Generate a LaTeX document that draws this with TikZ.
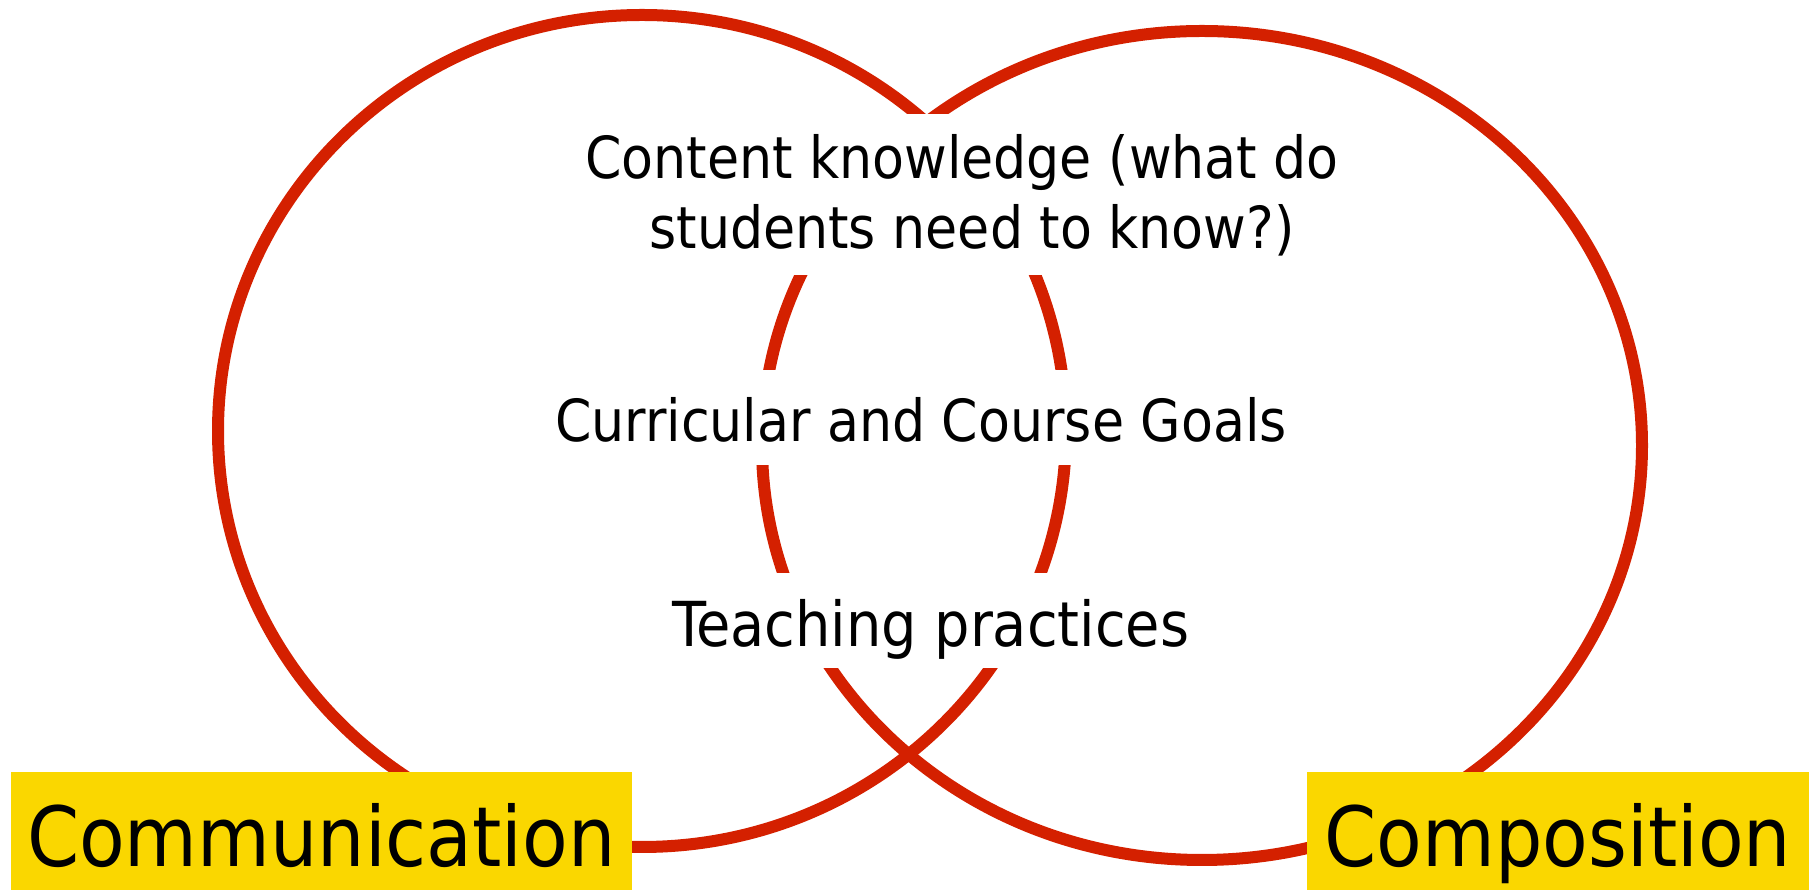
\documentclass[tikz,border=0pt]{standalone}
\usepackage{fontspec}
\setmainfont{DejaVu Sans Condensed}
\definecolor{ringred}{RGB}{212,32,0}
\definecolor{tagyellow}{RGB}{250,215,0}
\begin{document}
\begin{tikzpicture}[x=1pt,y=1pt,
  ring/.style={draw=ringred,line width=12pt},
  topic/.style={fill=white,inner sep=0pt,font=\fontsize{58}{70}\selectfont,align=center},
  tag/.style={fill=tagyellow,inner sep=0pt,anchor=base,text height=95pt,text depth=23pt,font=\fontsize{83}{90}\selectfont}]
\useasboundingbox (0,0) rectangle (1813,890);
% the two circles
\draw[ring] (642,459) ellipse [x radius=424,y radius=416];
\draw[ring] (1202,444.5) ellipse [x radius=440,y radius=414.5];
% texts in the overlap
\node[topic,minimum height=161pt] (know) at (962,695) {Content knowledge (what do\\ \hspace*{20pt}students need to know?)};
\node[topic,anchor=base,text height=72pt,text depth=23pt] (goals) at (921,448) {Curricular and Course Goals};
\node[topic,anchor=base,text height=74pt,text depth=21pt,font=\fontsize{62}{70}\selectfont] (practice) at (931,243) {Teaching practices};
% labels
\node[tag,minimum width=621pt] (comm) at (321.5,23) {Communication};
\node[tag,minimum width=502pt] (comp) at (1558,23) {Composition};
\end{tikzpicture}
\end{document}
